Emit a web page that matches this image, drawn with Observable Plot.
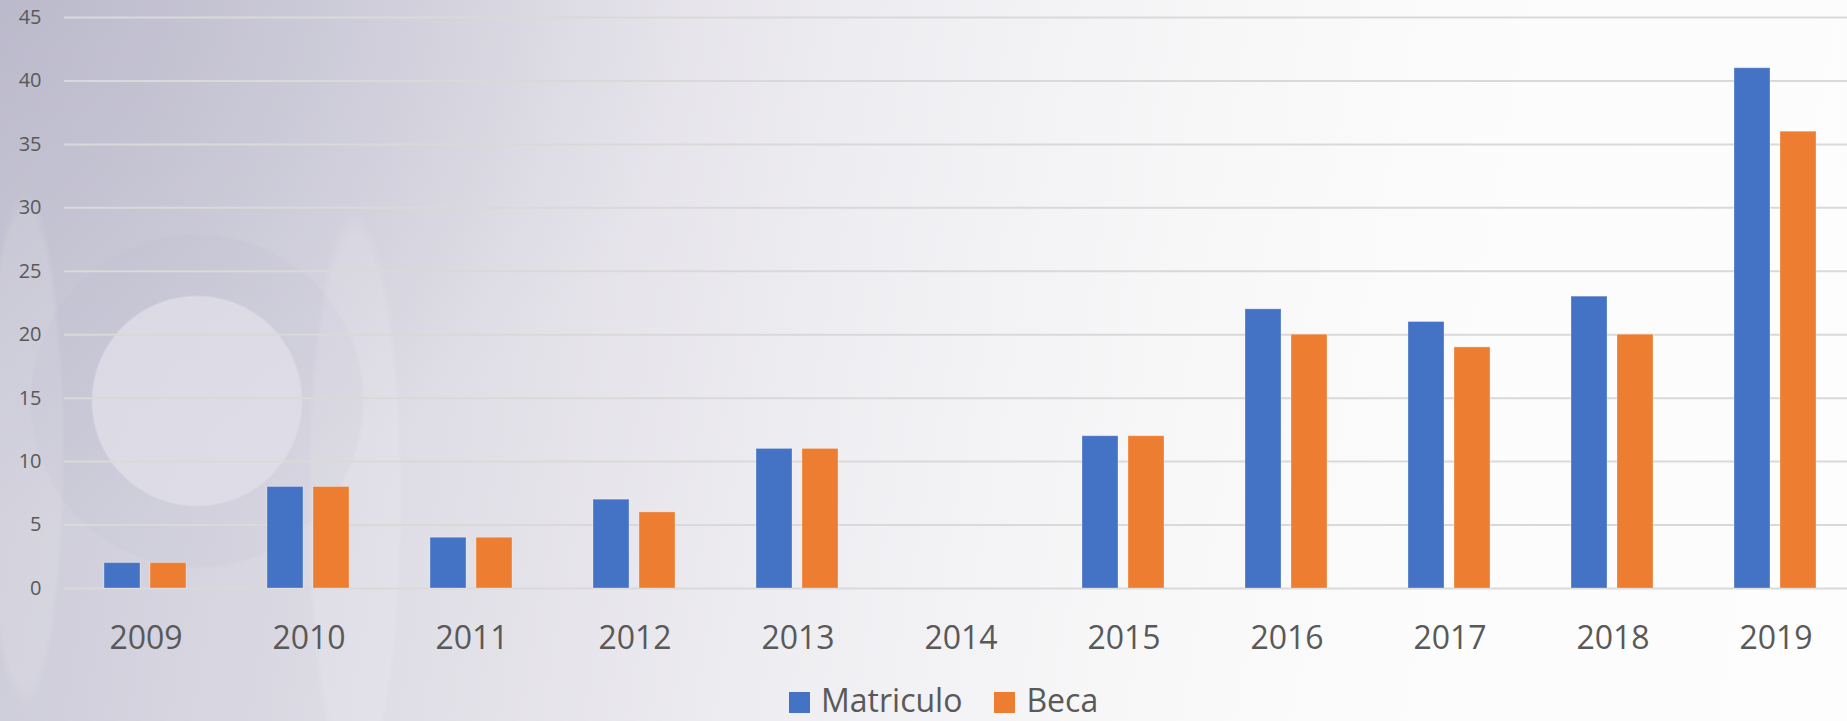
<!DOCTYPE html>
<html>
<head>
<meta charset="utf-8">
<script src="https://cdn.jsdelivr.net/npm/d3@7"></script>
<script src="https://cdn.jsdelivr.net/npm/@observablehq/plot@0.6"></script>
<style>
  html, body { margin: 0; padding: 0; }
  body {
    width: 1847px; height: 721px; overflow: hidden; position: relative;
    font-family: "Open Sans", sans-serif;
    background:
      radial-gradient(circle at 197px 401px, rgba(224,223,233,0.75) 0 104px, rgba(176,174,196,0.10) 106px 165px, rgba(0,0,0,0) 168px),
      radial-gradient(ellipse 48px 290px at 355px 500px, rgba(255,255,255,0.13) 0 90%, rgba(255,255,255,0) 100%),
      radial-gradient(ellipse 40px 260px at 25px 450px, rgba(255,255,255,0.12) 0 90%, rgba(255,255,255,0) 100%),
      radial-gradient(ellipse 700px 520px at 0px 0px, rgba(170,168,190,0.45) 0%, rgba(170,168,190,0) 100%),
      linear-gradient(100deg, #c9c8d6 0%, #d6d5e0 16%, #e3e1e8 30%, #eeedf1 45%, #f7f7f8 62%, #fcfcfc 78%, #fdfdfd 100%);
  }
  #chart svg { display: block; overflow: hidden; }
  #legend {
    position: absolute; left: 789px; top: 684px; height: 32px;
    display: flex; align-items: flex-start; font-size: 32px; line-height: 32px; color: #595959;
  }
  #legend .item { display: flex; align-items: flex-start; margin-right: 32px; }
  #legend .sw { width: 21px; height: 21px; margin-top: 8px; margin-right: 11px; }
</style>
</head>
<body>
<div id="chart"></div>
<div id="legend"></div>
<script>
const years = ["2009","2010","2011","2012","2013","2014","2015","2016","2017","2018","2019"];
const matriculo = [2, 8, 4, 7, 11, 0, 12, 22, 21, 23, 41];
const beca = [2, 8, 4, 6, 11, 0, 12, 20, 19, 20, 36];
const seriesNames = ["Matriculo", "Beca"];
const seriesColors = ["#4472C4", "#ED7D31"];
const yTicks = [0, 5, 10, 15, 20, 25, 30, 35, 40, 45];

const rows = [];
years.forEach((yr, i) => {
  rows.push({year: yr, series: seriesNames[0], value: matriculo[i]});
  rows.push({year: yr, series: seriesNames[1], value: beca[i]});
});

const chart = Plot.plot({
  width: 1847,
  height: 684,
  marginLeft: 62,
  marginRight: -11,
  marginTop: 17,
  marginBottom: 96,
  style: {background: "transparent", fontFamily: "Open Sans, sans-serif", color: "#595959"},
  fx: {domain: years, padding: 0, label: null},
  x: {domain: seriesNames, axis: null, paddingInner: 0.215, paddingOuter: 0.863},
  y: {domain: [0, 45], label: null},
  color: {domain: seriesNames, range: seriesColors},
  marks: [
    Plot.gridY(yTicks, {stroke: "#d9d9d9", strokeOpacity: 1, strokeWidth: 2}),
    Plot.axisY(yTicks, {tickSize: 0, tickPadding: 23, fontSize: 20, label: null, fill: "#595959"}),
    Plot.axisFx({anchor: "bottom", tickSize: 0, tickPadding: 38, fontSize: 32, label: null, fill: "#595959"}),
    Plot.barY(rows, {fx: "year", x: "series", y: "value", fill: "series", stroke: "#ffffff", strokeOpacity: 0.3, strokeWidth: 1})
  ]
});
document.getElementById("chart").appendChild(chart);

const legend = document.getElementById("legend");
seriesNames.forEach((name, i) => {
  const item = document.createElement("div");
  item.className = "item";
  const sw = document.createElement("div");
  sw.className = "sw";
  sw.style.background = seriesColors[i];
  const label = document.createElement("span");
  label.textContent = name;
  item.appendChild(sw);
  item.appendChild(label);
  legend.appendChild(item);
});
</script>
</body>
</html>
